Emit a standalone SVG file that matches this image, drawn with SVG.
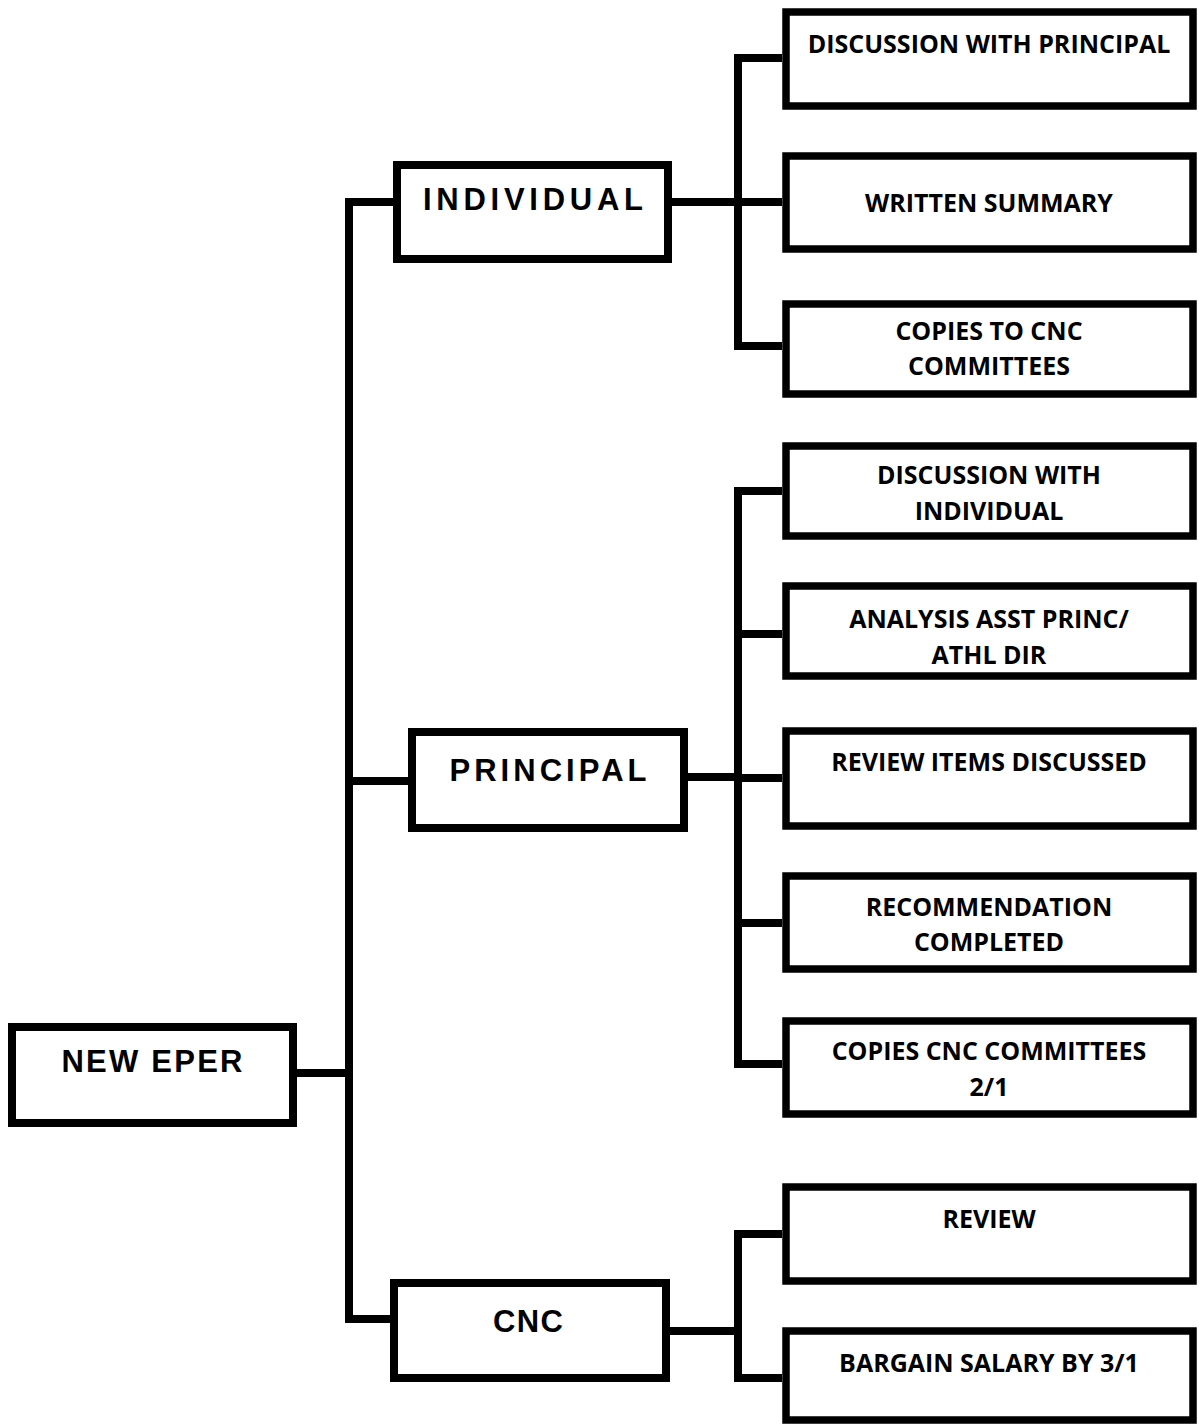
<svg xmlns="http://www.w3.org/2000/svg" width="1199" height="1425" viewBox="0 0 1199 1425">
<style>
.box{fill:#fff;stroke:#000;stroke-width:8}
.cbox{fill:#fff;stroke:#000;stroke-width:7.5}
.main{font-family:"Liberation Sans",Arial,sans-serif;font-weight:700;font-size:31px;fill:#000;text-anchor:middle}
.sub{font-family:"Open Sans","Noto Sans",sans-serif;font-weight:700;font-size:25px;fill:#000;text-anchor:middle}
.conn{fill:none;stroke:#000;stroke-width:8;stroke-linejoin:miter;stroke-linecap:butt}
</style>
<rect width="1199" height="1425" fill="#fff"/>
<g id="connectors">
<path class="conn" d="M297,1073 H349"/>
<path class="conn" d="M393,202 H349 V1319 H390"/>
<path class="conn" d="M349,781 H408"/>
<path class="conn" d="M672,202 H782"/>
<path class="conn" d="M782,58 H738 V346 H782"/>
<path class="conn" d="M688,777 H738"/>
<path class="conn" d="M782,491 H738 V1064 H782"/>
<path class="conn" d="M738,634 H782"/>
<path class="conn" d="M738,778 H782"/>
<path class="conn" d="M738,923 H782"/>
<path class="conn" d="M670,1331 H738"/>
<path class="conn" d="M782,1234 H738 V1378 H782"/>
</g>
<g id="new-eper">
<rect class="box" x="12" y="1027" width="281" height="96"/>
<text class="main" x="152" y="1072" textLength="181" lengthAdjust="spacing">NEW EPER</text>
</g>
<g id="individual">
<rect class="box" x="397" y="165" width="271" height="94"/>
<text class="main" x="533" y="210" textLength="220" lengthAdjust="spacing">INDIVIDUAL</text>
</g>
<g id="principal">
<rect class="box" x="412" y="732" width="272" height="96"/>
<text class="main" x="548" y="781" textLength="197" lengthAdjust="spacing">PRINCIPAL</text>
</g>
<g id="cnc">
<rect class="box" x="394" y="1283" width="272" height="95"/>
<text class="main" x="528" y="1332" textLength="70" lengthAdjust="spacing">CNC</text>
</g>
<g id="discussion-with-principal">
<rect class="cbox" x="786" y="12" width="407" height="94"/>
<text class="sub" x="989" y="53">DISCUSSION WITH PRINCIPAL</text>
</g>
<g id="written-summary">
<rect class="cbox" x="786" y="156" width="407" height="93"/>
<text class="sub" x="989" y="212">WRITTEN SUMMARY</text>
</g>
<g id="copies-to-cnc">
<rect class="cbox" x="786" y="304" width="407" height="90"/>
<text class="sub" x="989" y="340">COPIES TO CNC</text>
<text class="sub" x="989" y="375">COMMITTEES</text>
</g>
<g id="discussion-with-individual">
<rect class="cbox" x="786" y="446" width="407" height="90"/>
<text class="sub" x="989" y="484">DISCUSSION WITH</text>
<text class="sub" x="989" y="520">INDIVIDUAL</text>
</g>
<g id="analysis">
<rect class="cbox" x="786" y="586" width="407" height="90"/>
<text class="sub" x="989" y="628">ANALYSIS ASST PRINC/</text>
<text class="sub" x="989" y="664">ATHL DIR</text>
</g>
<g id="review-items">
<rect class="cbox" x="786" y="731" width="407" height="95"/>
<text class="sub" x="989" y="771">REVIEW ITEMS DISCUSSED</text>
</g>
<g id="recommendation">
<rect class="cbox" x="786" y="876" width="407" height="93"/>
<text class="sub" x="989" y="916">RECOMMENDATION</text>
<text class="sub" x="989" y="951">COMPLETED</text>
</g>
<g id="copies-cnc-committees">
<rect class="cbox" x="786" y="1021" width="407" height="93"/>
<text class="sub" x="989" y="1060">COPIES CNC COMMITTEES</text>
<text class="sub" x="989" y="1096">2/1</text>
</g>
<g id="review">
<rect class="cbox" x="786" y="1187" width="407" height="94"/>
<text class="sub" x="989" y="1228">REVIEW</text>
</g>
<g id="bargain">
<rect class="cbox" x="786" y="1331" width="407" height="89"/>
<text class="sub" x="989" y="1372">BARGAIN SALARY BY 3/1</text>
</g>
</svg>
